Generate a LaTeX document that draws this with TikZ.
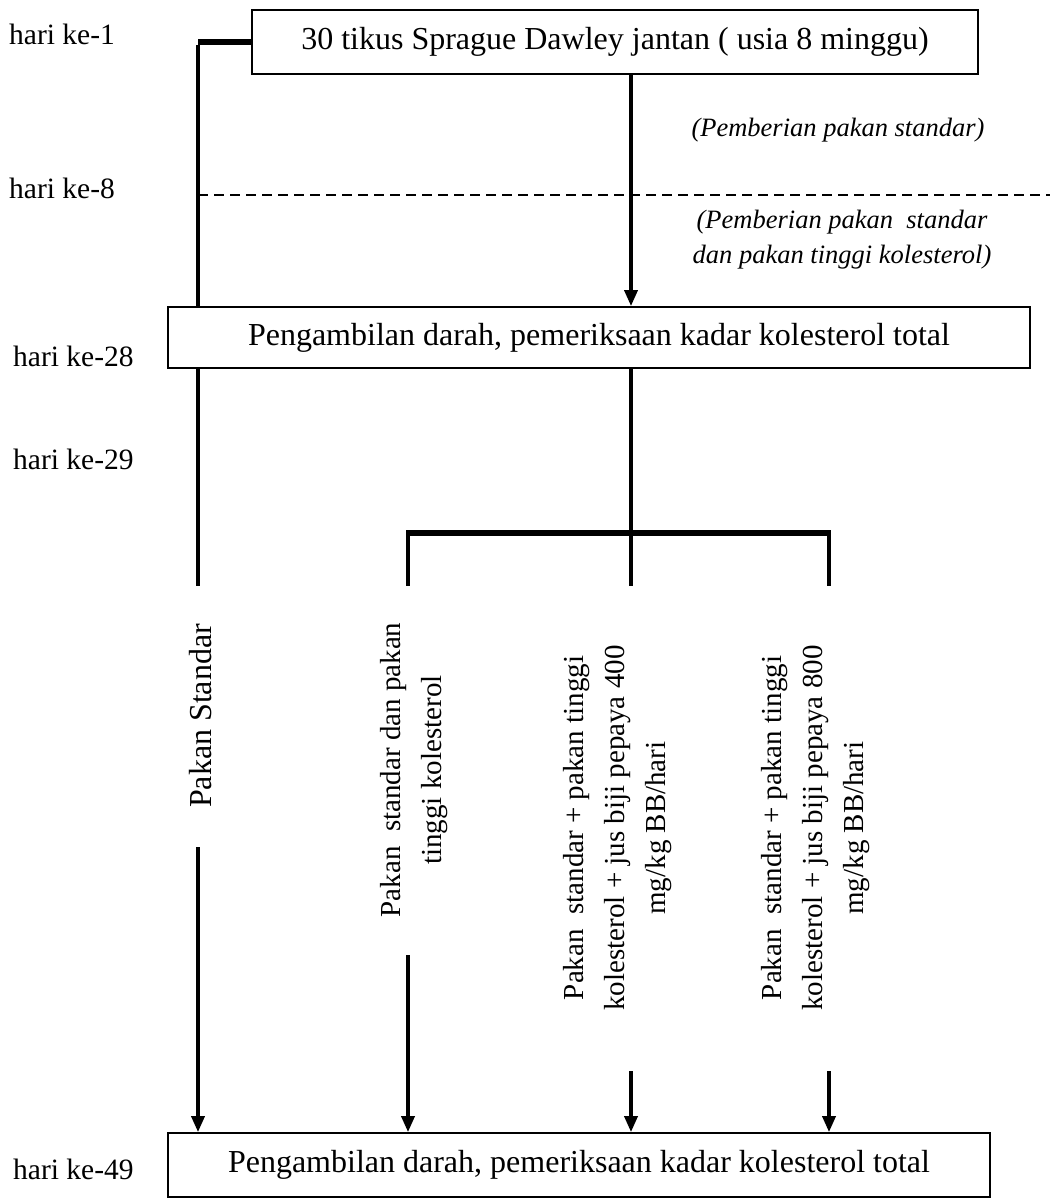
\documentclass[tikz,border=0pt]{standalone}
\usepackage{fontspec}
\setmainfont{Liberation Serif}
\usetikzlibrary{arrows.meta}
\begin{document}
\begin{tikzpicture}[x=1pt,y=-1pt,
  boxnode/.style={draw,line width=1.8pt,inner sep=0pt,font=\fontsize{32}{38}\selectfont},
  day/.style={anchor=base west,inner sep=0pt,font=\fontsize{29.5}{35}\selectfont},
  note/.style={inner sep=0pt,align=center,font=\fontsize{26.5}{35}\selectfont\itshape},
  grp/.style={rotate=90,inner sep=0pt,align=center,font=\fontsize{29}{41}\selectfont},
  link/.style={line width=3.5pt},
  heavy/.style={line width=6pt},
  dashline/.style={line width=2.5pt,dash pattern=on 10pt off 6pt},
  arr/.style={line width=3.5pt,-{Triangle[length=16pt,width=13pt]}}]
\useasboundingbox (0,0) rectangle (1050,1198);

% boxes
\node[boxnode,minimum width=726pt,minimum height=64pt] (b1) at (615,42) {30 tikus Sprague Dawley jantan ( usia 8 minggu)};
\node[boxnode,minimum width=862pt,minimum height=61pt] (b2) at (599,337.5) {Pengambilan darah, pemeriksaan kadar kolesterol total};
\node[boxnode,minimum width=822pt,minimum height=64pt] (b3) at (579,1165) {Pengambilan darah, pemeriksaan kadar kolesterol total};

% day labels
\node[day] (d1) at (9,45) {hari ke-1};
\node[day] (d8) at (9,199) {hari ke-8};
\node[day] (d28) at (13,366) {hari ke-28};
\node[day] (d29) at (13,469) {hari ke-29};
\node[day] (d49) at (13,1179) {hari ke-49};

% notes
\node[note] (n1) at (838,130) {(Pemberian pakan standar)};
\node[note] (n2) at (842,240) {(Pemberian pakan\ \ standar\\dan pakan tinggi kolesterol)};

% group labels
\node[grp,font=\fontsize{32}{41}\selectfont] (g1) at (201,716) {Pakan Standar};
\node[grp] (g2) at (414,770) {Pakan\ \ standar dan pakan\\tinggi kolesterol};
\node[grp] (g3) at (618,828) {Pakan\ \ standar + pakan tinggi\\kolesterol + jus biji pepaya 400\\mg/kg BB/hari};
\node[grp] (g4) at (816,828) {Pakan\ \ standar + pakan tinggi\\kolesterol + jus biji pepaya 800\\mg/kg BB/hari};

% coordinates
\coordinate (lx) at (198,42);
\coordinate (cx) at (631,42);
\coordinate (dL) at (198,195);
\coordinate (dR) at (1050,195);
\coordinate (jc) at (631,533);
\coordinate (jl) at (408,533);
\coordinate (jr) at (829,533);
\coordinate (e1) at (198,586);
\coordinate (e2) at (408,586);
\coordinate (e3) at (631,586);
\coordinate (e4) at (829,586);
\coordinate (s1) at (198,847);
\coordinate (s2) at (408,955);
\coordinate (s3) at (631,1071);
\coordinate (s4) at (829,1071);

% top part
\draw[heavy] (b1.west) -- (lx);
\draw[link] ([yshift=-3pt]lx) -- (lx |- b2.north);
\draw[arr] (cx |- b1.south) -- (cx |- b2.north);
\draw[dashline] (dL) -- (dR);

% after day 28
\draw[link] (e1 |- b2.south) -- (e1);
\draw[link] (jc |- b2.south) -- (jc) -- (e3);
\draw[heavy] ([xshift=-1.75pt]jl) -- ([xshift=1.75pt]jr);
\draw[link] (jl) -- (e2);
\draw[link] (jr) -- (e4);

% final arrows
\draw[arr] (s1) -- (s1 |- b3.north);
\draw[arr] (s2) -- (s2 |- b3.north);
\draw[arr] (s3) -- (s3 |- b3.north);
\draw[arr] (s4) -- (s4 |- b3.north);
\end{tikzpicture}
\end{document}
